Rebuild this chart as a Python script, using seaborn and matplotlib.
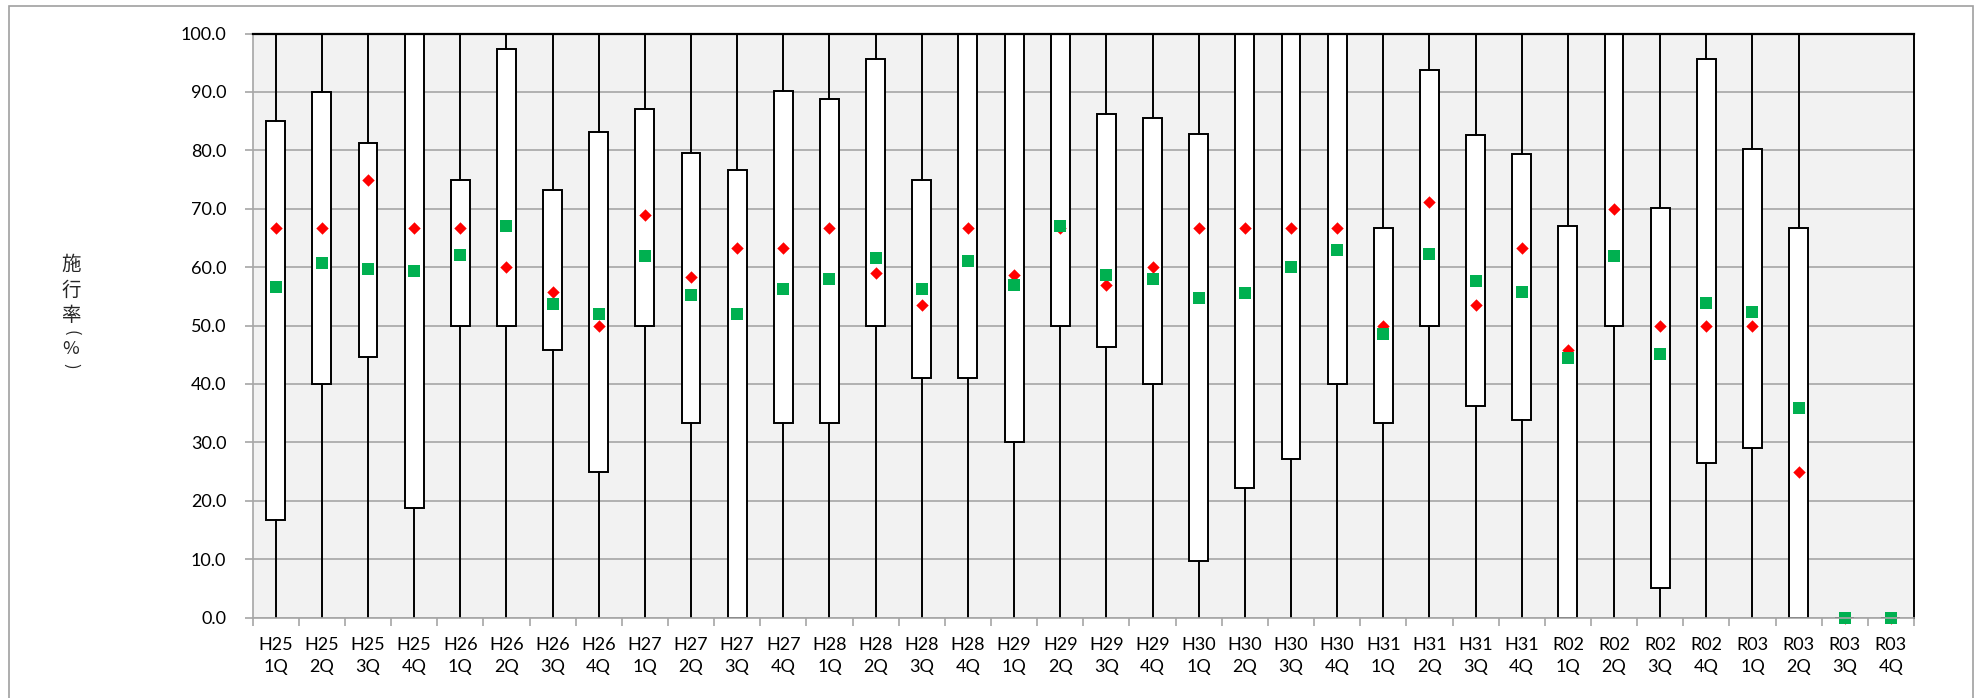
import numpy as np
import pandas as pd
import matplotlib
matplotlib.use("Agg")
import matplotlib.pyplot as plt
import matplotlib.patches as mpatches
import seaborn as sns

# ---------------- data ----------------
labels = ["H25\n1Q", "H25\n2Q", "H25\n3Q", "H25\n4Q",
          "H26\n1Q", "H26\n2Q", "H26\n3Q", "H26\n4Q",
          "H27\n1Q", "H27\n2Q", "H27\n3Q", "H27\n4Q",
          "H28\n1Q", "H28\n2Q", "H28\n3Q", "H28\n4Q",
          "H29\n1Q", "H29\n2Q", "H29\n3Q", "H29\n4Q",
          "H30\n1Q", "H30\n2Q", "H30\n3Q", "H30\n4Q",
          "H31\n1Q", "H31\n2Q", "H31\n3Q", "H31\n4Q",
          "R02\n1Q", "R02\n2Q", "R02\n3Q", "R02\n4Q",
          "R03\n1Q", "R03\n2Q", "R03\n3Q", "R03\n4Q"]

whis_lo = [0.0] * 34 + [0.0, 0.0]
whis_hi = [100.0] * 34 + [0.0, 0.0]

q1 = [16.7, 40.0, 44.6, 18.7,
      50.0, 50.0, 45.8, 25.0,
      50.0, 33.3, 0.0, 33.3,
      33.3, 50.0, 41.0, 41.0,
      30.0, 50.0, 46.4, 40.0,
      9.6, 22.1, 27.2, 40.0,
      33.3, 50.0, 36.3, 33.9,
      0.0, 50.0, 5.0, 26.5,
      29.1, 0.0, 0.0, 0.0]

q3 = [85.0, 90.0, 81.2, 100.0,
      75.0, 97.4, 73.2, 83.1,
      87.0, 79.6, 76.6, 90.1,
      88.8, 95.7, 75.0, 100.0,
      100.0, 100.0, 86.2, 85.6,
      82.8, 100.0, 100.0, 100.0,
      66.7, 93.7, 82.7, 79.3,
      67.0, 100.0, 70.2, 95.7,
      80.2, 66.7, 0.0, 0.0]

median = [66.7, 66.7, 75.0, 66.7,
          66.7, 60.0, 55.7, 50.0,
          69.0, 58.3, 63.3, 63.3,
          66.7, 59.0, 53.5, 66.7,
          58.6, 66.7, 56.9, 60.0,
          66.7, 66.7, 66.7, 66.7,
          50.0, 71.2, 53.5, 63.3,
          45.8, 70.0, 50.0, 50.0,
          50.0, 25.0, 0.0, 0.0]

mean = [56.6, 60.7, 59.6, 59.4,
        62.1, 67.1, 53.7, 51.9,
        61.9, 55.2, 52.0, 56.3,
        57.9, 61.6, 56.3, 61.0,
        56.9, 67.0, 58.7, 57.9,
        54.7, 55.5, 60.0, 62.9,
        48.5, 62.3, 57.6, 55.8,
        44.5, 61.9, 45.2, 53.8,
        52.3, 35.9, 0.0, 0.0]

ylabel_main = "施\n行\n率"
ylabel_paren_open = "("
ylabel_unit = "%"
ylabel_paren_close = ")"

# ---------------- style ----------------
sns.set_theme(style="white")
plt.rcParams["font.family"] = ["Lato", "Noto Sans CJK JP", "DejaVu Sans"]

W, H = 1980, 698
fig = plt.figure(figsize=(W / 100, H / 100), dpi=100)
ax = fig.add_axes([252.6 / W, 1 - 617.5 / H, (1914 - 252.6) / W, (617.5 - 33.5) / H])
ax.set_facecolor("#f2f2f2")

grid_gray = "#a6a6a6"
ax.set_axisbelow(True)
ax.yaxis.grid(True, color=grid_gray, linewidth=1.2)
ax.xaxis.grid(False)

# boxes (summary statistics)
stats = [dict(whislo=a, q1=b, med=c, q3=d, whishi=e, label=l)
         for a, b, c, d, e, l in zip(whis_lo, q1, median, q3, whis_hi, labels)]
pos = np.arange(len(labels))
ax.bxp(stats, positions=pos, widths=0.41, patch_artist=True,
       showcaps=False, showfliers=False, manage_ticks=False,
       boxprops=dict(facecolor="white", edgecolor="black", linewidth=1.4),
       whiskerprops=dict(color="black", linewidth=1.4),
       medianprops=dict(visible=False))

df = pd.DataFrame({"label": labels, "median": median, "mean": mean})
sns.scatterplot(data=df, x="label", y="median", marker="D", s=40,
                color="#ff0000", linewidth=0, ax=ax, zorder=5, clip_on=False)
sns.scatterplot(data=df, x="label", y="mean", marker="s", s=80,
                color="#00b050", linewidth=0, ax=ax, zorder=6, clip_on=False)

ax.set_xlim(-0.5, len(labels) - 0.5)
ax.set_ylim(0, 100)
ax.set_yticks(np.arange(0, 101, 10))
ax.set_yticklabels([f"{v:.1f}" for v in np.arange(0, 101, 10)])
ax.set_xticks(pos)
ax.set_xticklabels(labels, linespacing=1.5)
ax.set_xticks(np.arange(-0.5, len(labels), 1.0), minor=True)
ax.set_xlabel("")
ax.set_ylabel("")

ax.tick_params(axis="y", which="major", length=6, width=1.2, color=grid_gray,
               pad=13, labelsize=13, labelcolor="black", left=True)
ax.tick_params(axis="x", which="major", length=0, pad=14, labelsize=13,
               labelcolor="black", bottom=True)
ax.tick_params(axis="x", which="minor", length=6, width=1.2, color=grid_gray,
               bottom=True)

for side in ["left", "bottom"]:
    ax.spines[side].set_color(grid_gray)
    ax.spines[side].set_linewidth(1.2)
ax.spines["top"].set_color("black")
ax.spines["top"].set_linewidth(1.6)
ax.spines["right"].set_color("black")
ax.spines["right"].set_linewidth(1.4)
for s in ax.spines.values():
    s.set_visible(True)
    s.set_zorder(7)

# stacked vertical y-axis label (Excel-style vertical text)
cjk = ["Noto Sans CJK JP", "DejaVu Sans"]
lx = 71 / W
fig.text(lx, 1 - 290 / H, ylabel_main, ha="center", va="center", fontsize=14,
         linespacing=1.29, family=cjk)
fig.text(lx, 1 - 333 / H, ylabel_paren_open, ha="center", va="center",
         fontsize=12, rotation=-90, rotation_mode="anchor", family=cjk)
fig.text(lx, 1 - 349 / H, ylabel_unit, ha="center", va="center", fontsize=13,
         family=cjk)
fig.text(lx, 1 - 366 / H, ylabel_paren_close, ha="center", va="center",
         fontsize=12, rotation=-90, rotation_mode="anchor", family=cjk)

# outer chart frame
frame = mpatches.Rectangle((9 / W, -0.02), (1973 - 9) / W, 1.02 - 5.5 / H,
                           transform=fig.transFigure, fill=False,
                           edgecolor="#a0a0a0", linewidth=1.2)
fig.patches.append(frame)

fig.savefig("out.png", dpi=100)
